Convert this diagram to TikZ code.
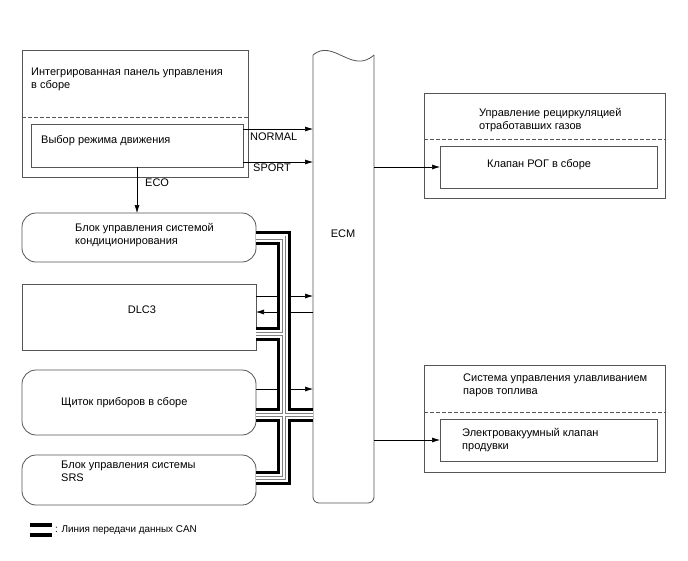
\documentclass[tikz,border=0pt]{standalone}
\usepackage{fontspec}
\setmainfont{Liberation Sans}
\usetikzlibrary{arrows.meta}
\definecolor{lc}{HTML}{555555}
\begin{document}
\begin{tikzpicture}[x=1pt,y=-1pt,
  box/.style={draw=lc, line width=0.8pt, inner sep=0pt, outer sep=0pt, anchor=north west},
  rbox/.style={box, rounded corners=14pt},
  txt/.style={inner sep=0pt, anchor=north west, align=left, font=\fontsize{11}{13}\selectfont},
  lbl/.style={inner sep=0pt, anchor=west, font=\fontsize{11}{13}\selectfont},
  arr/.style={-{Latex[length=8pt,width=5pt]}, line width=0.6pt, draw=black},
  dsh/.style={draw=lc, line width=0.8pt, dash pattern=on 4pt off 2pt},
  bus/.style={line width=14pt, draw=black, line join=miter,
    postaction={draw=white, line width=8pt, line join=miter},
    postaction={draw=gray, line width=4pt, line join=miter},
    postaction={draw=white, line width=2.5pt, line join=miter}},
]
\useasboundingbox[fill=white] (0,0) rectangle (688,560);

% integrated panel
\node[box, minimum width=226, minimum height=127] (panel) at (22,50) {};
\draw[dsh] (22,117) -- (248,117);
\node[txt] (paneltxt) at (31,67.5) {Интегрированная панель управления\\в сборе};
\node[box, minimum width=212, minimum height=43] (sel) at (31,124) {};
\node[txt] (seltxt) at (41,135.5) {Выбор режима движения};

% ECM
\node[inner sep=0pt, outer sep=0pt, minimum width=61, minimum height=448, anchor=north west] (ecm) at (313,55) {};
\draw[lc, line width=0.8pt] (313,55) .. controls (333,38) and (352,75) .. (374,55);
\draw[lc, line width=0.8pt, rounded corners=6pt] (374,55) -- (374,503) -- (313,503) -- (313,55);
\node[lbl, anchor=center] (ecmtxt) at (343,234) {ECM};

% mode arrows
\draw[arr] ([yshift=16.5pt]sel.east) -- ([yshift=16.5pt]sel.east -| ecm.west);
\draw[arr] ([yshift=-16.5pt]sel.east) -- ([yshift=-16.5pt]sel.east -| ecm.west);
\node[lbl] (normal) at (250,137) {NORMAL};
\node[lbl] (sport) at (253,168) {SPORT};

% left boxes
\node[rbox, minimum width=234, minimum height=49] (ac) at (22,213) {};
\node[txt] (actxt) at (75,223.5) {Блок управления системой\\кондиционирования};
\draw[arr] (sel.south) -- (sel.south |- ac.north);
\node[lbl] (eco) at (145,183) {ECO};

\node[box, minimum width=234, minimum height=66] (dlc) at (22,284) {};
\node[lbl, anchor=center] (dlctxt) at (142,310) {DLC3};

\node[rbox, minimum width=234, minimum height=65] (shch) at (22,370) {};
\node[txt] (shchtxt) at (61,397.5) {Щиток приборов в сборе};

\node[rbox, minimum width=234, minimum height=50] (srs) at (22,455) {};
\node[txt] (srstxt) at (61,460.5) {Блок управления системы\\SRS};

% DLC3 and meter arrows
\draw[arr] ([yshift=21pt]dlc.east) -- ([yshift=21pt]dlc.east -| ecm.west);
\draw[arr] ([yshift=5pt]dlc.east -| ecm.west) -- ([yshift=5pt]dlc.east);
\draw[arr] ([yshift=13.5pt]shch.east) -- ([yshift=13.5pt]shch.east -| ecm.west);

% CAN bus
\coordinate (bx) at (284,0);
\path[bus] (ac.east) -- (ac.east -| bx) -- ([yshift=2pt]srs.east -| bx) -- ([yshift=2pt]srs.east)
  ([yshift=-17pt]dlc.east) -- ([yshift=-17pt]dlc.east -| bx)
  ([yshift=-12.5pt]shch.east) -- ([yshift=-12.5pt]shch.east -| ecm.west);

% EGR
\node[box, minimum width=241, minimum height=105] (egr) at (424,93) {};
\draw[dsh] (424,139) -- (665,139);
\node[txt] (egrtxt) at (479,108.5) {Управление рециркуляцией\\отработавших газов};
\node[box, minimum width=217, minimum height=42] (valve) at (440,146) {};
\node[txt] (valvetxt) at (487,159.5) {Клапан РОГ в сборе};
\draw[arr] (valve.west -| ecm.east) -- (valve.west);

% EVAP
\node[box, minimum width=241, minimum height=107] (evap) at (424,365) {};
\draw[dsh] (424,412) -- (665,412);
\node[txt] (evaptxt) at (463,373.5) {Система управления улавливанием\\паров топлива};
\node[box, minimum width=217, minimum height=42] (vsv) at (440,419) {};
\node[txt] (vsvtxt) at (462,428.5) {Электровакуумный клапан\\продувки};
\draw[arr] (vsv.west -| ecm.east) -- (vsv.west);

% legend
\draw[line width=3.5pt] (30,525) -- (52,525) (30,535) -- (52,535);
\node[lbl, font=\fontsize{9.9}{12}\selectfont] (legtxt) at (55,530) {: Линия передачи данных CAN};
\end{tikzpicture}
\end{document}
